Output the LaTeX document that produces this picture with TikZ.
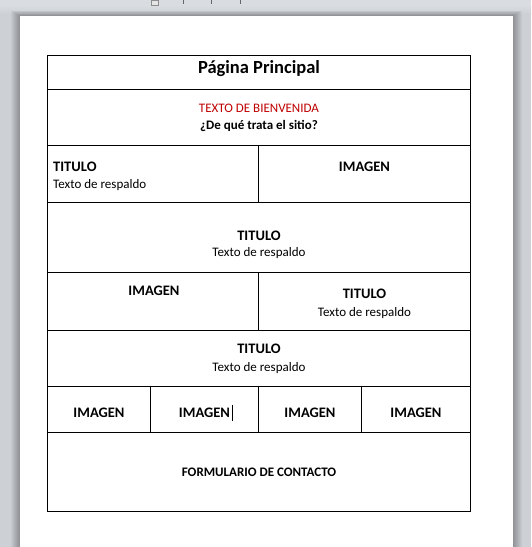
\documentclass[tikz,border=0pt]{standalone}
\usepackage{fontspec}
\setmainfont{Carlito}
\definecolor{bggray}{HTML}{CDD1D6}
\definecolor{rulergray}{HTML}{D9DCE0}
\definecolor{wordred}{HTML}{C00000}
\begin{document}
\begin{tikzpicture}[x=1pt,y=-1pt,
  grid/.style={line width=1pt, line cap=rect},
  hbig/.style={font=\fontsize{18.5}{20}\selectfont\bfseries, inner sep=0pt, anchor=base},
  hbold/.style={font=\fontsize{14.5}{16}\selectfont\bfseries, inner sep=0pt, anchor=base},
  hsmallbold/.style={font=\fontsize{13}{15}\selectfont\bfseries, inner sep=0pt, anchor=base},
  body/.style={font=\fontsize{13}{15}\selectfont, inner sep=0pt, anchor=base},
  tick/.style={line width=1pt, draw=black!60}
]
\useasboundingbox (0,0) rectangle (531,547);
% background
\fill[bggray] (0,0) rectangle (531,547);
\fill[rulergray] (0,0) rectangle (531,5);
\shade[top color=rulergray, bottom color=bggray] (0,5) rectangle (531,14);
% ruler marks
\draw[line width=0.8pt, draw=black!45, fill=white!90!black] (151,0) rectangle (158,5);
\foreach \tx in {183,211,240} \draw[tick] (\tx,0) -- (\tx,4);
% page shadow
\foreach \s in {1,...,9}
  \fill[black, opacity=0.035] (20-\s,16-\s*0.6) rectangle (513+\s,547);
% page
\fill[white] (20,16) rectangle (513,547);
% table grid
\draw[grid] (47.5,55) rectangle (470.5,511);
\foreach \yy in {89.5,145,202,272,330,386,432}
  \draw[grid] (47.5,\yy) -- (470.5,\yy);
\draw[grid] (258.5,145) -- (258.5,202);
\draw[grid] (258.5,272) -- (258.5,330);
\draw[grid] (150.5,386) -- (150.5,432);
\draw[grid] (258.5,386) -- (258.5,432);
\draw[grid] (361.5,386) -- (361.5,432);
% texts
\node[hbig] (title) at (259,73) {Página Principal};
\node[body, text=wordred] (welcome) at (259,112.3) {TEXTO DE BIENVENIDA};
\node[hsmallbold] (about) at (259,129) {¿De qué trata el sitio?};
\node[hbold, anchor=base west] (t1) at (53,171) {TITULO};
\node[body, anchor=base west] (r1) at (53,188.3) {Texto de respaldo};
\node[hbold] (i1) at (364.5,171) {IMAGEN};
\node[hbold] (t2) at (259,240) {TITULO};
\node[body] (r2) at (259,256.7) {Texto de respaldo};
\node[hbold] (i2) at (154,295.7) {IMAGEN};
\node[hbold] (t3) at (364.5,298.7) {TITULO};
\node[body] (r3) at (364.5,316) {Texto de respaldo};
\node[hbold] (t4) at (259,353.7) {TITULO};
\node[body] (r4) at (259,371) {Texto de respaldo};
\node[hbold] (i3) at (99,417) {IMAGEN};
\node[hbold] (i4) at (204.5,417) {IMAGEN};
\node[hbold] (i5) at (310,417) {IMAGEN};
\node[hbold] (i6) at (416,417) {IMAGEN};
\node[hsmallbold] (form) at (259,476) {FORMULARIO DE CONTACTO};
% text cursor
\draw[line width=1.3pt] (232.5,404.5) -- (232.5,421);
\end{tikzpicture}
\end{document}
